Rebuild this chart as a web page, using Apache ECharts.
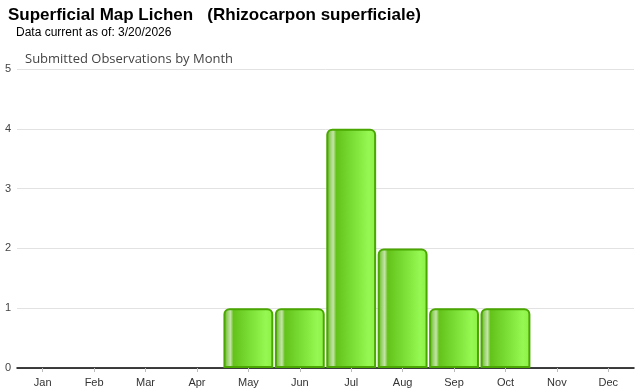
<!DOCTYPE html>
<html><head><meta charset="utf-8">
<script src="https://cdn.jsdelivr.net/npm/echarts@6/dist/echarts.min.js"></script>
<style>html,body{margin:0;padding:0;background:#fff}#c{width:640px;height:390px}</style>
</head><body><div id="c"></div>
<script>
const months = ['Jan','Feb','Mar','Apr','May','Jun','Jul','Aug','Sep','Oct','Nov','Dec'];
const observations = [0,0,0,0,1,1,4,2,1,1,0,0];
const yTicks = [0,1,2,3,4,5];

const chart = echarts.init(document.getElementById('c'));
const barFill = new echarts.graphic.LinearGradient(0,0,1,0,[
  {offset:0, color:'#58b408'},
  {offset:0.09, color:'#a0d478'},
  {offset:0.14, color:'#c4e4a8'},
  {offset:0.2, color:'#64c21a'},
  {offset:0.5, color:'#78dc34'},
  {offset:0.85, color:'#96f852'},
  {offset:1, color:'#8cf046'}
]);
chart.setOption({
  animation:false,
  title:[
    {text:'Superficial Map Lichen   (Rhizocarpon superficiale)', left:8, top:7, padding:0,
     textStyle:{fontFamily:'Liberation Sans', fontWeight:'bold', fontSize:17, color:'#000'}},
    {text:'Data current as of: 3/20/2026', left:16, top:27, padding:0,
     textStyle:{fontFamily:'Liberation Sans', fontWeight:'normal', fontSize:12, color:'#000'}},
    {text:'Submitted Observations by Month', left:25, top:53, padding:0,
     textStyle:{fontFamily:'Open Sans', fontWeight:'normal', fontSize:13, color:'#444'}}
  ],
  grid:{left:17, right:6, top:69, bottom:22, containLabel:false},
  xAxis:{type:'category', data:months,
    axisLine:{lineStyle:{color:'#000', width:1.5}},
    axisTick:{show:true, alignWithLabel:true, length:4, lineStyle:{color:'#bbb'}},
    axisLabel:{fontFamily:'Liberation Sans', fontSize:11, color:'#333', margin:9}},
  yAxis:{type:'value', min:yTicks[0], max:yTicks[yTicks.length-1], interval:1,
    axisLine:{show:false}, axisTick:{show:false},
    splitLine:{lineStyle:{color:'#e2e2e2', width:1}},
    axisLabel:{fontFamily:'Liberation Sans', fontSize:11, color:'#444', margin:6}},
  series:[{type:'bar', data:observations.map(v => v === 0 ? '-' : v), barCategoryGap:'3%',
    itemStyle:{color:barFill, borderColor:'#4aa600', borderWidth:2, borderRadius:[5,5,0,0]}}]
});
</script></body></html>
